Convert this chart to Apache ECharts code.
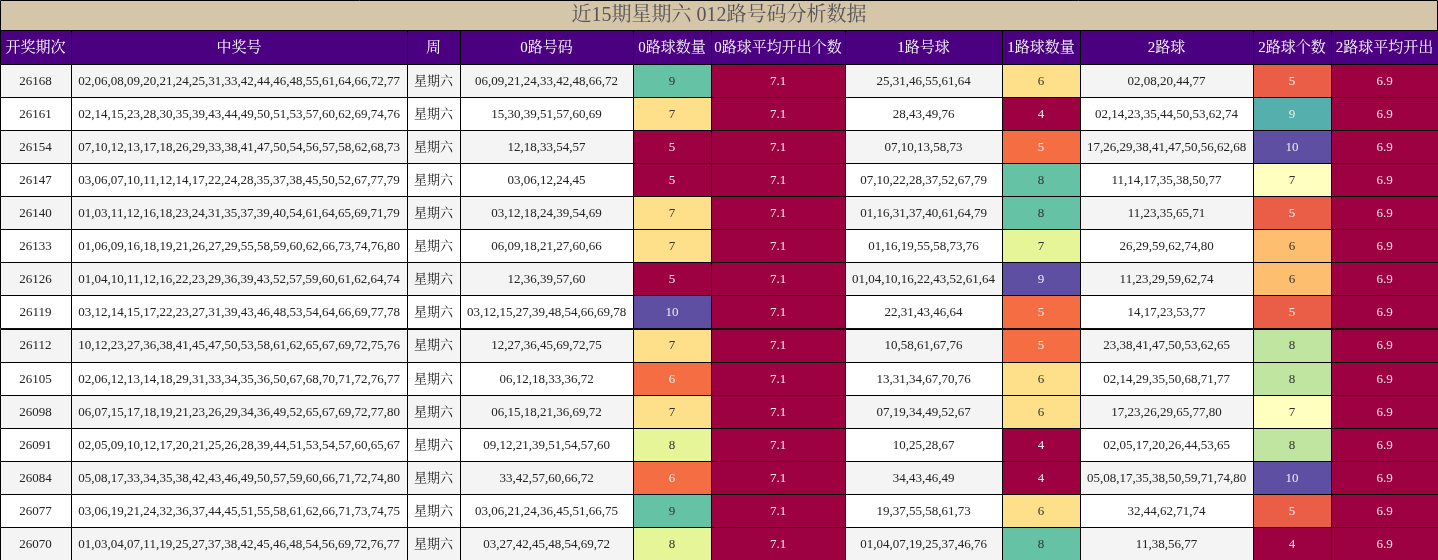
<!DOCTYPE html>
<html><head><meta charset="utf-8">
<script src="https://cdn.jsdelivr.net/npm/echarts@6/dist/echarts.min.js"></script>
<style>html,body{margin:0;padding:0;background:#fff}#c{width:1438px;height:560px}</style>
</head><body><div id="c"></div>
<script>
const title = '近15期星期六 012路号码分析数据';
const headers = ['开奖期次','中奖号','周','0路号码','0路球数量','0路球平均开出个数','1路号球','1路球数量','2路球','2路球个数','2路球平均开出'];
const issues = ['26168','26161','26154','26147','26140','26133','26126','26119','26112','26105','26098','26091','26084','26077','26070'];
const winning = [
'02,06,08,09,20,21,24,25,31,33,42,44,46,48,55,61,64,66,72,77',
'02,14,15,23,28,30,35,39,43,44,49,50,51,53,57,60,62,69,74,76',
'07,10,12,13,17,18,26,29,33,38,41,47,50,54,56,57,58,62,68,73',
'03,06,07,10,11,12,14,17,22,24,28,35,37,38,45,50,52,67,77,79',
'01,03,11,12,16,18,23,24,31,35,37,39,40,54,61,64,65,69,71,79',
'01,06,09,16,18,19,21,26,27,29,55,58,59,60,62,66,73,74,76,80',
'01,04,10,11,12,16,22,23,29,36,39,43,52,57,59,60,61,62,64,74',
'03,12,14,15,17,22,23,27,31,39,43,46,48,53,54,64,66,69,77,78',
'10,12,23,27,36,38,41,45,47,50,53,58,61,62,65,67,69,72,75,76',
'02,06,12,13,14,18,29,31,33,34,35,36,50,67,68,70,71,72,76,77',
'06,07,15,17,18,19,21,23,26,29,34,36,49,52,65,67,69,72,77,80',
'02,05,09,10,12,17,20,21,25,26,28,39,44,51,53,54,57,60,65,67',
'05,08,17,33,34,35,38,42,43,46,49,50,57,59,60,66,71,72,74,80',
'03,06,19,21,24,32,36,37,44,45,51,55,58,61,62,66,71,73,74,75',
'01,03,04,07,11,19,25,27,37,38,42,45,46,48,54,56,69,72,76,77'];
const weekday = '星期六';
const road0 = ['06,09,21,24,33,42,48,66,72','15,30,39,51,57,60,69','12,18,33,54,57','03,06,12,24,45','03,12,18,24,39,54,69','06,09,18,21,27,60,66','12,36,39,57,60','03,12,15,27,39,48,54,66,69,78','12,27,36,45,69,72,75','06,12,18,33,36,72','06,15,18,21,36,69,72','09,12,21,39,51,54,57,60','33,42,57,60,66,72','03,06,21,24,36,45,51,66,75','03,27,42,45,48,54,69,72'];
const count0 = [9,7,5,5,7,7,5,10,7,6,7,8,6,9,8];
const avg0 = 7.1;
const road1 = ['25,31,46,55,61,64','28,43,49,76','07,10,13,58,73','07,10,22,28,37,52,67,79','01,16,31,37,40,61,64,79','01,16,19,55,58,73,76','01,04,10,16,22,43,52,61,64','22,31,43,46,64','10,58,61,67,76','13,31,34,67,70,76','07,19,34,49,52,67','10,25,28,67','34,43,46,49','19,37,55,58,61,73','01,04,07,19,25,37,46,76'];
const count1 = [6,4,5,8,8,7,9,5,5,6,6,4,4,6,8];
const road2 = ['02,08,20,44,77','02,14,23,35,44,50,53,62,74','17,26,29,38,41,47,50,56,62,68','11,14,17,35,38,50,77','11,23,35,65,71','26,29,59,62,74,80','11,23,29,59,62,74','14,17,23,53,77','23,38,41,47,50,53,62,65','02,14,29,35,50,68,71,77','17,23,26,29,65,77,80','02,05,17,20,26,44,53,65','05,08,17,35,38,50,59,71,74,80','32,44,62,71,74','11,38,56,77'];
const count2 = [5,9,10,7,5,6,6,5,8,8,7,8,10,5,4];
const avg2 = 6.9;

// layout (style, not data)
const edges = [0,71,407,460,633,711,845,1002,1080,1253,1331,1438];
const W=1438,H=560,TOP=64,TITLE_H=30;
const spectral=['#9e0142','#d53e4f','#f46d43','#fdae61','#fee08b','#ffffbf','#e6f598','#abdda4','#66c2a5','#3288bd','#5e4fa2'];
function hex(c){return [1,3,5].map(i=>parseInt(c.substr(i,2),16));}
function scale(v,arr){const mn=Math.min(...arr),mx=Math.max(...arr);let t=(v-mn)/(mx-mn);const p=t*(spectral.length-1);const i=Math.min(Math.floor(p),spectral.length-2);const f=p-i;const a=hex(spectral[i]),b=hex(spectral[i+1]);return a.map((x,k)=>Math.round(x+(b[k]-x)*f));}
function fill(rgb){return 'rgb('+rgb.join(',')+')';}
function txt(rgb){const l=0.299*rgb[0]+0.587*rgb[1]+0.114*rgb[2];return l>150?'#333':'#eee';}

const data=[];
issues.forEach((iss,r)=>{
  const bg = r%2===0?'#f4f4f4':'#ffffff';
  const row=[[iss,bg,'#222'],[winning[r],bg,'#222'],[weekday,bg,'#222'],[road0[r],bg,'#222']];
  let c=scale(count0[r],count0); row.push([String(count0[r]),fill(c),txt(c)]);
  row.push([avg0.toFixed(1),'#9e0142','#eee']);
  row.push([road1[r],bg,'#222']);
  c=scale(count1[r],count1); row.push([String(count1[r]),fill(c),txt(c)]);
  row.push([road2[r],bg,'#222']);
  c=scale(count2[r],count2); row.push([String(count2[r]),fill(c),txt(c)]);
  row.push([avg2.toFixed(1),'#9e0142','#eee']);
  row.forEach((cell,ci)=>data.push([ci,r,cell[0],cell[1],cell[2]]));
});

const font='"Liberation Serif","Noto Serif CJK SC","Noto Sans CJK SC",serif';
const graphics=[
 {type:'rect',shape:{x:0.5,y:0.5,width:W-1,height:TITLE_H},style:{fill:'#d5c6aa',stroke:'#000',lineWidth:1}},
 {type:'text',x:W/2,y:16,style:{text:title,fill:'#555',font:'20px '+font,align:'center',verticalAlign:'middle'}}
];
headers.forEach((h,i)=>{
  graphics.push({type:'rect',shape:{x:edges[i]+0.5,y:TITLE_H+0.5,width:edges[i+1]-edges[i],height:TOP-TITLE_H},style:{fill:'#4b0082',stroke:'#000',lineWidth:1}});
  graphics.push({type:'text',x:(edges[i]+edges[i+1])/2,y:(TITLE_H+TOP)/2+1,style:{text:h,fill:'#fff',font:'15px '+font,align:'center',verticalAlign:'middle'}});
});

const chart=echarts.init(document.getElementById('c'));
chart.setOption({
  animation:false,
  grid:{left:0,right:0,top:TOP,bottom:0},
  xAxis:{type:'value',min:0,max:headers.length,show:false},
  yAxis:{type:'category',data:issues,inverse:true,show:false},
  graphic:graphics,
  series:[{type:'custom',data:data,renderItem:function(p,api){
    const ci=api.value(0),r=api.value(1);
    const y0=api.coord([0,r])[1], bh=api.size([0,1])[1];
    const x0=edges[ci], x1=edges[ci+1];
    const d=data[p.dataIndex];
    return {type:'group',children:[
      {type:'rect',shape:{x:x0+0.5,y:Math.round(y0-bh/2)+0.5,width:x1-x0,height:bh},style:{fill:d[3],stroke:'#000',lineWidth:1}},
      {type:'text',x:(x0+x1)/2,y:y0+1,style:{text:d[2],fill:d[4],font:'13px '+font,align:'center',verticalAlign:'middle'}}
    ]};
  }}]
});
</script></body></html>
